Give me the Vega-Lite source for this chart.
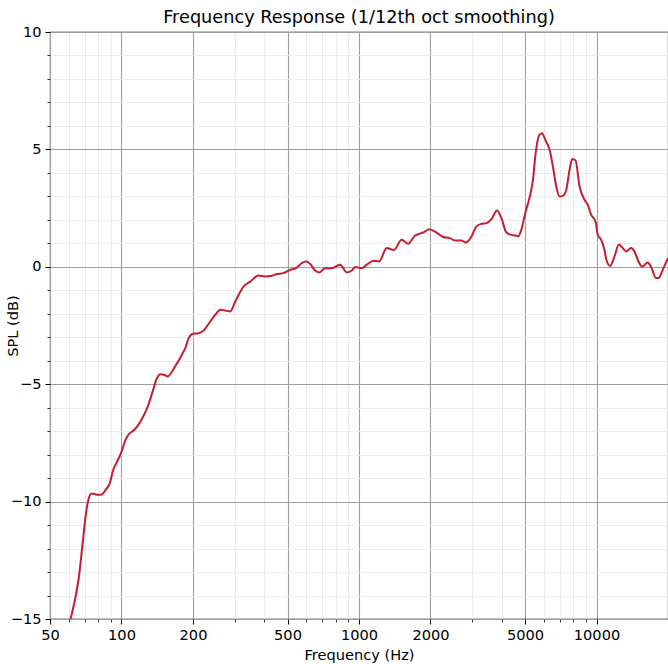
{
  "$schema": "https://vega.github.io/schema/vega-lite/v6.json",
  "width": 618,
  "height": 587,
  "autosize": {"type": "none"},
  "padding": {"left": 50, "top": 32, "right": 0, "bottom": 45},
  "background": "white",
  "title": {"text": "Frequency Response (1/12th oct smoothing)", "font": "DejaVu Sans", "fontSize": 17.7, "fontWeight": "normal", "color": "#000000", "offset": -3, "anchor": "middle"},
  "config": {
    "view": {"stroke": "#000000", "strokeWidth": 1.1},
    "axis": {"labelFont": "DejaVu Sans", "titleFont": "DejaVu Sans", "labelFontSize": 14.6, "titleFontSize": 14.6, "titleFontWeight": "normal", "labelColor": "#000000", "titleColor": "#000000", "tickColor": "#000000", "domain": false}
  },
  "data": {"values": [
    {"f":59,"spl":-15.6},{"f":61,"spl":-15.0},{"f":64.1,"spl":-14.04},{"f":66.2,"spl":-13.19},{"f":68.4,"spl":-11.91},{"f":70.6,"spl":-10.63},{"f":72.9,"spl":-9.85},{"f":74.6,"spl":-9.67},{"f":76.5,"spl":-9.67},{"f":79,"spl":-9.71},{"f":82.2,"spl":-9.71},{"f":85.7,"spl":-9.5},{"f":89.3,"spl":-9.21},{"f":92.3,"spl":-8.65},{"f":95.9,"spl":-8.29},{"f":99.7,"spl":-7.91},{"f":104,"spl":-7.37},{"f":107.3,"spl":-7.13},{"f":113.4,"spl":-6.94},{"f":120.2,"spl":-6.59},{"f":128.2,"spl":-6.02},{"f":134.6,"spl":-5.38},{"f":140.3,"spl":-4.8},{"f":145.8,"spl":-4.58},{"f":151,"spl":-4.6},{"f":156.5,"spl":-4.67},{"f":163.3,"spl":-4.46},{"f":169,"spl":-4.2},{"f":175.5,"spl":-3.94},{"f":180.5,"spl":-3.7},{"f":185.7,"spl":-3.46},{"f":191.8,"spl":-3.04},{"f":200,"spl":-2.85},{"f":211,"spl":-2.83},{"f":221.7,"spl":-2.71},{"f":236.6,"spl":-2.33},{"f":248.3,"spl":-2.04},{"f":260.6,"spl":-1.83},{"f":273.5,"spl":-1.86},{"f":287.1,"spl":-1.9},{"f":301.3,"spl":-1.48},{"f":326.5,"spl":-0.84},{"f":348.3,"spl":-0.63},{"f":377.5,"spl":-0.37},{"f":402.7,"spl":-0.41},{"f":429.8,"spl":-0.38},{"f":451.1,"spl":-0.31},{"f":480.8,"spl":-0.27},{"f":513,"spl":-0.13},{"f":543.5,"spl":-0.06},{"f":574.4,"spl":0.16},{"f":598.8,"spl":0.23},{"f":622.3,"spl":0.13},{"f":653.2,"spl":-0.16},{"f":681.1,"spl":-0.24},{"f":719.8,"spl":-0.06},{"f":768.1,"spl":-0.06},{"f":832,"spl":0.09},{"f":890,"spl":-0.24},{"f":932,"spl":-0.16},{"f":965,"spl":-0.01},{"f":1026,"spl":-0.06},{"f":1078,"spl":0.09},{"f":1148,"spl":0.26},{"f":1217,"spl":0.23},{"f":1308,"spl":0.8},{"f":1403,"spl":0.72},{"f":1512,"spl":1.15},{"f":1611,"spl":0.98},{"f":1719,"spl":1.32},{"f":1805,"spl":1.41},{"f":1894,"spl":1.5},{"f":1974,"spl":1.6},{"f":2121,"spl":1.46},{"f":2261,"spl":1.27},{"f":2412,"spl":1.22},{"f":2532,"spl":1.12},{"f":2701,"spl":1.12},{"f":2817,"spl":1.03},{"f":2948,"spl":1.22},{"f":3123,"spl":1.72},{"f":3278,"spl":1.83},{"f":3441,"spl":1.86},{"f":3612,"spl":2.03},{"f":3813,"spl":2.4},{"f":3980,"spl":2.07},{"f":4175,"spl":1.46},{"f":4382,"spl":1.36},{"f":4568,"spl":1.33},{"f":4670,"spl":1.29},{"f":4826,"spl":1.58},{"f":5032,"spl":2.36},{"f":5232,"spl":2.97},{"f":5401,"spl":3.71},{"f":5544,"spl":4.84},{"f":5724,"spl":5.58},{"f":5892,"spl":5.69},{"f":6107,"spl":5.38},{"f":6347,"spl":4.98},{"f":6553,"spl":4.27},{"f":6771,"spl":3.42},{"f":6991,"spl":2.99},{"f":7218,"spl":3.02},{"f":7460,"spl":3.28},{"f":7702,"spl":4.13},{"f":7906,"spl":4.59},{"f":8163,"spl":4.53},{"f":8484,"spl":3.42},{"f":8905,"spl":2.85},{"f":9192,"spl":2.64},{"f":9499,"spl":2.21},{"f":9903,"spl":1.93},{"f":10127,"spl":1.36},{"f":10464,"spl":1.15},{"f":10804,"spl":0.72},{"f":11000,"spl":0.3},{"f":11418,"spl":0.04},{"f":11901,"spl":0.44},{"f":12408,"spl":0.94},{"f":12898,"spl":0.8},{"f":13330,"spl":0.65},{"f":13992,"spl":0.8},{"f":14447,"spl":0.65},{"f":14915,"spl":0.3},{"f":15560,"spl":0.01},{"f":16430,"spl":0.18},{"f":16980,"spl":-0.01},{"f":17815,"spl":-0.48},{"f":18270,"spl":-0.48},{"f":18990,"spl":-0.13},{"f":20000,"spl":0.37}
  ]},
  "layer": [
    {
      "mark": {"type": "line", "strokeOpacity": 0, "clip": true},
      "encoding": {
        "x": {"field": "f", "type": "quantitative", "scale": {"type": "log", "domain": [50, 20000], "nice": false},
              "axis": {"orient": "bottom", "values": [60,70,80,90,300,400,600,700,800,900,3000,4000,6000,7000,8000,9000,20000], "labels": false, "title": null, "grid": true, "gridColor": "#ebebeb", "gridWidth": 1, "tickSize": 3, "tickWidth": 0.8}},
        "y": {"field": "spl", "type": "quantitative", "scale": {"domain": [-15, 10], "nice": false},
              "axis": {"orient": "left", "values": [-14,-13,-12,-11,-9,-8,-7,-6,-4,-3,-2,-1,1,2,3,4,6,7,8,9], "labels": false, "title": null, "grid": true, "gridColor": "#ebebeb", "gridWidth": 1, "tickSize": 3, "tickWidth": 0.8}}
      }
    },
    {
      "mark": {"type": "line", "color": "#c41e30", "strokeWidth": 2, "clip": true, "interpolate": "monotone"},
      "encoding": {
        "x": {"field": "f", "type": "quantitative", "scale": {"type": "log", "domain": [50, 20000], "nice": false},
              "axis": {"orient": "bottom", "values": [50,100,200,500,1000,2000,5000,10000], "format": "d", "title": "Frequency (Hz)", "titlePadding": 6, "grid": true, "gridColor": "#9e9e9e", "gridWidth": 1.1, "tickSize": 5, "tickWidth": 1, "labelPadding": 3, "labelFlush": false}},
        "y": {"field": "spl", "type": "quantitative", "scale": {"domain": [-15, 10], "nice": false},
              "axis": {"orient": "left", "values": [-15,-10,-5,0,5,10], "format": "d", "title": "SPL (dB)", "titleX": -37, "titleY": 293.5, "titleAngle": -90, "titleAlign": "center", "titleBaseline": "middle", "grid": true, "gridColor": "#9e9e9e", "gridWidth": 1.1, "tickSize": 5, "tickWidth": 1, "labelPadding": 4, "labelFlush": false}}
      }
    }
  ],
  "resolve": {"axis": {"x": "independent", "y": "independent"}}
}
